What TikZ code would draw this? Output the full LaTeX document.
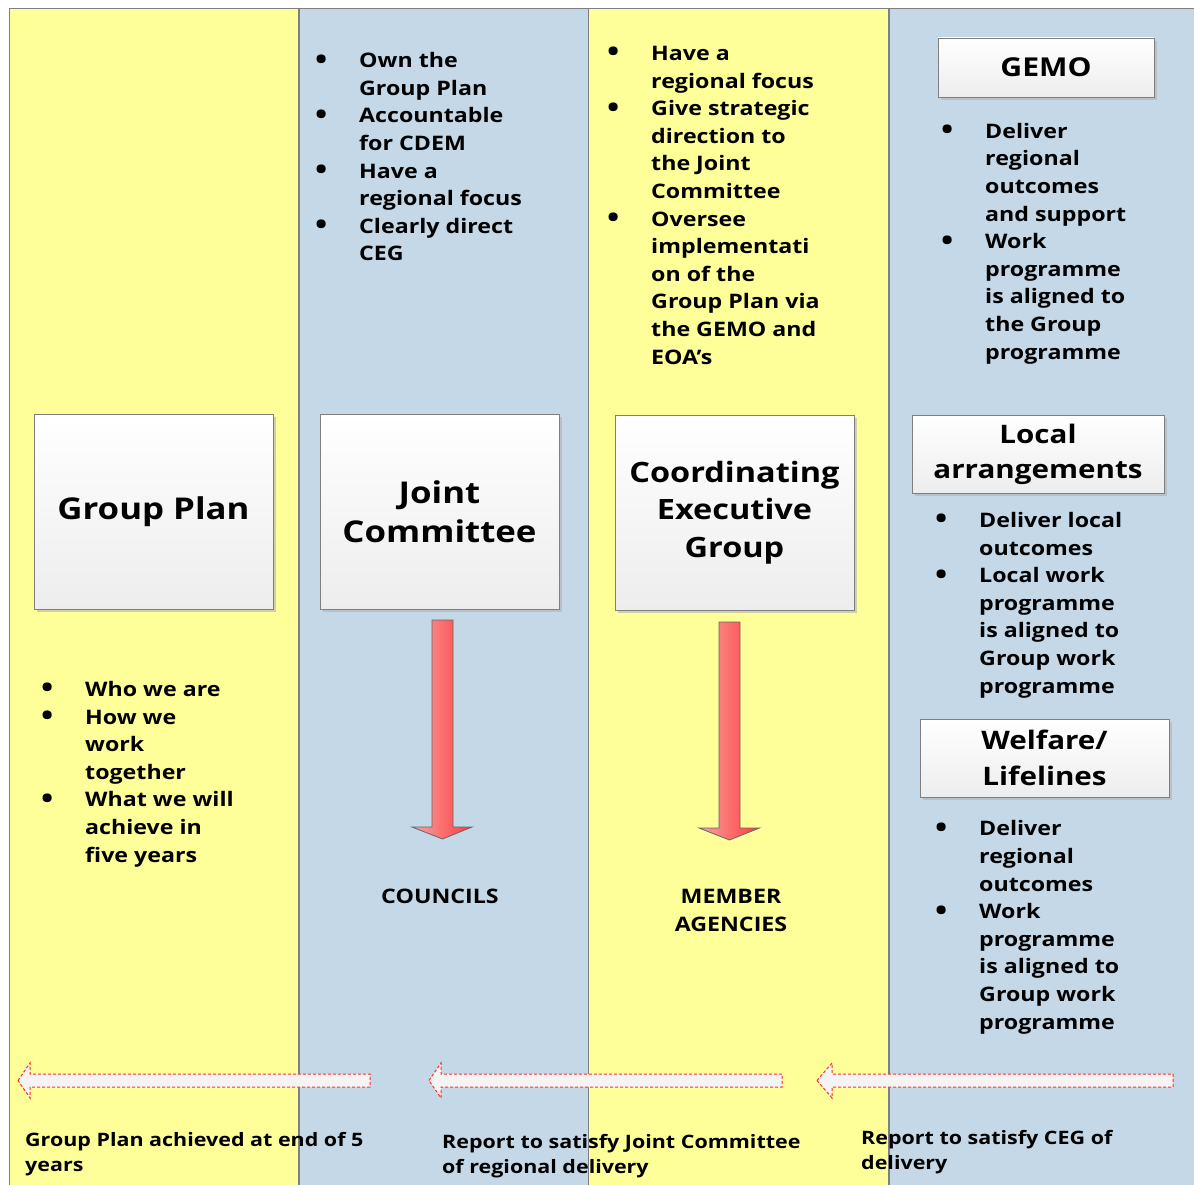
\documentclass[tikz,border=0pt]{standalone}
\usepackage{fontspec}
\setmainfont{Open Sans}[FakeStretch=1.16]
\usepackage{tikz}
\usetikzlibrary{shadows}
\definecolor{laneyellow}{HTML}{FFFF99}
\definecolor{laneblue}{HTML}{C5D8E8}
\definecolor{edge}{HTML}{7F7F7F}
\definecolor{boxbottom}{HTML}{EDEDED}
\definecolor{arrowlight}{HTML}{F7A3A3}
\definecolor{arrowred}{HTML}{FF3B3B}
\definecolor{dashred}{HTML}{FF2E2E}
\definecolor{backfill}{HTML}{F4F4F4}
\newcommand{\bul}{\makebox[44pt][l]{\raisebox{-1.5pt}{\smash{\fontsize{28}{28}\selectfont\textbullet}}}}
\newcommand{\ind}{\hspace*{44pt}}
\tikzset{
  lane/.style={draw=edge, line width=1pt},
  head/.style={draw=edge, line width=0.8pt, top color=white, bottom color=boxbottom,
    drop shadow={shadow xshift=3pt, shadow yshift=-3pt, fill=black!30, opacity=0.6},
    align=center, inner sep=0pt, font=\fontsize{30}{39}\selectfont\bfseries},
  pts/.style={anchor=base west, align=left, inner sep=0pt, font=\fontsize{20}{27.6}\selectfont\bfseries},
  note/.style={anchor=base west, align=left, inner sep=0pt, font=\fontsize{18.5}{24.5}\selectfont\bfseries},
  down/.style={draw=edge!80!black, line width=0.8pt, left color=arrowlight, right color=arrowred},
  back/.style={draw=dashred, dash pattern=on 3pt off 2pt, line width=1pt, fill=backfill},
}

\begin{document}
\begin{tikzpicture}[x=1pt, y=-1pt]
  \useasboundingbox (0,0) rectangle (1194,1185);
  \clip (0,0) rectangle (1194,1185);

  % lanes
  \filldraw[lane, fill=laneyellow] (9,9) rectangle (298,1195);
  \filldraw[lane, fill=laneblue] (299.5,9) rectangle (588,1195);
  \filldraw[lane, fill=laneyellow] (588,9) rectangle (888,1195);
  \filldraw[lane, fill=laneblue] (889.5,9) rectangle (1205,1195);

  % headings
  \node[head, minimum width=239, minimum height=195] (plan) at (153.5,511.5) {Group Plan};
  \node[head, minimum width=239, minimum height=195] (jc) at (439.5,511.5) {Joint\\Committee};
  \node[head, minimum width=239, minimum height=195, font=\fontsize{28}{37.5}\selectfont\bfseries] (ceg) at (734.5,512.5) {Coordinating\\Executive\\Group};
  \node[head, minimum width=216, minimum height=59, font=\fontsize{26}{35}\selectfont\bfseries] (gemo) at (1046,67.5) {GEMO};
  \node[head, minimum width=252, minimum height=78, font=\fontsize{25.5}{35}\selectfont\bfseries] (local) at (1038,454) {Local\\arrangements};
  \node[head, minimum width=249, minimum height=78, font=\fontsize{25.5}{36}\selectfont\bfseries] (welf) at (1044.5,758) {Welfare/\\Lifelines};

  % points (placed by the baseline of their last line)
  \node[pts] (planpts) at (41,862) {\bul Who we are\\\bul How we\\\ind work\\\ind together\\\bul What we will\\\ind achieve in\\\ind five years};
  \node[pts] (jcpts) at (315,261) {\bul Own the\\\ind Group Plan\\\bul Accountable\\\ind for CDEM\\\bul Have a\\\ind regional focus\\\bul Clearly direct\\\ind CEG};
  \node[pts] (cegpts) at (607,364) {\bul Have a\\\ind regional focus\\\bul Give strategic\\\ind direction to\\\ind the Joint\\\ind Committee\\\bul Oversee\\\ind implementati\\\ind on of the\\\ind Group Plan via\\\ind the GEMO and\\\ind EOA’s};
  \node[pts] (gemopts) at (941,359) {\bul Deliver\\\ind regional\\\ind outcomes\\\ind and support\\\bul Work\\\ind programme\\\ind is aligned to\\\ind the Group\\\ind programme};
  \node[pts] (localpts) at (935,693) {\bul Deliver local\\\ind outcomes\\\bul Local work\\\ind programme\\\ind is aligned to\\\ind Group work\\\ind programme};
  \node[pts] (welfpts) at (935,1029) {\bul Deliver\\\ind regional\\\ind outcomes\\\bul Work\\\ind programme\\\ind is aligned to\\\ind Group work\\\ind programme};

  % who delivers
  \node[pts, anchor=center, align=center] (councils) at (440,896) {COUNCILS};
  \node[pts, anchor=center, align=center] (agencies) at (731,910.5) {MEMBER\\AGENCIES};

  \coordinate (jcdown) at (442.5,620);
  \coordinate (cegdown) at (729.5,622);
  \draw[down] (jcdown) ++(-10.5,0) -- ++(21,0) -- ++(0,207) -- ++(19,0) -- ++(-29.5,12) -- ++(-30.5,-12) -- ++(20,0) -- cycle;
  \draw[down] (cegdown) ++(-10.5,0) -- ++(21,0) -- ++(0,206) -- ++(19.5,0) -- ++(-30,12) -- ++(-30.5,-12) -- ++(20,0) -- cycle;

  % reporting back
  \draw[back] (18,1080.5) -- (30,1063) -- (30,1074) -- (370,1074) -- (370,1087) -- (30,1087) -- (30,1098) -- cycle;
  \draw[back] (429,1080.5) -- (441,1063) -- (441,1074) -- (782,1074) -- (782,1087) -- (441,1087) -- (441,1098) -- cycle;
  \draw[back] (817,1080.5) -- (832,1063) -- (832,1074) -- (1173,1074) -- (1173,1087) -- (832,1087) -- (832,1098) -- cycle;

  \node[note] (done) at (25,1171) {Group Plan achieved at end of 5\\years};
  \node[note] (rptjc) at (442,1173) {Report to satisfy Joint Committee\\of regional delivery};
  \node[note] (rptceg) at (861,1169) {Report to satisfy CEG of\\delivery};
\end{tikzpicture}
\end{document}
